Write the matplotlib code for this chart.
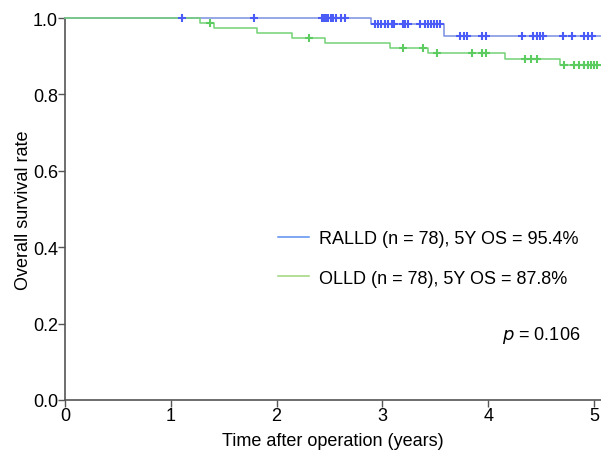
import numpy as np
import matplotlib
matplotlib.use("Agg")
import matplotlib.pyplot as plt
from matplotlib.lines import Line2D

plt.rcParams['font.family'] = ['Liberation Sans', 'DejaVu Sans']

# Kaplan-Meier steps (years, survival after step)
ralld_times = [0.0, 2.89, 3.58]
ralld_surv = [1.0, 0.985, 0.954]
ralld_censor = [1.11, 1.79, 2.43, 2.45, 2.47, 2.49, 2.51, 2.53, 2.56, 2.61, 2.65,
                2.93, 2.96, 2.99, 3.02, 3.05, 3.09, 3.11, 3.19, 3.21, 3.24, 3.36,
                3.40, 3.43, 3.46, 3.49, 3.52, 3.54,
                3.73, 3.77, 3.80, 3.94, 3.98, 4.32, 4.42, 4.46, 4.49, 4.52,
                4.71, 4.79, 4.91, 4.94, 4.98]

olld_times = [0.0, 1.28, 1.41, 1.81, 2.15, 2.46, 3.07, 3.43, 4.16, 4.68]
olld_surv = [1.0, 0.987, 0.974, 0.961, 0.948, 0.934, 0.921, 0.908, 0.893, 0.878]
olld_censor = [1.37, 2.31, 3.19, 3.38, 3.52, 3.85, 3.94, 3.98, 4.35, 4.40, 4.46,
               4.72, 4.81, 4.86, 4.91, 4.94, 4.97, 5.00, 5.03]

labels = ['RALLD (n = 78), 5Y OS = 95.4%', 'OLLD (n = 78), 5Y OS = 87.8%']
p_text = '0.106'
x_end = 5.1


def km_draw(ax, times, surv, censor, line_col, mark_col):
    t = np.append(times, x_end)
    s = np.append(surv, surv[-1])
    ax.step(t, s, where='post', color=line_col, lw=1.1, clip_on=False, zorder=3)
    idx = np.searchsorted(times, censor, side='right') - 1
    ys = np.array(surv)[idx]
    ax.plot(censor, ys, ls='none', marker='+', ms=6, mew=1.5,
            color=mark_col, clip_on=False, zorder=4)


fig = plt.figure(figsize=(6.01, 4.56), dpi=100)
ax = fig.add_axes([65 / 601, 55 / 456, 536 / 601, 382 / 456])

km_draw(ax, ralld_times, ralld_surv, ralld_censor, '#7b8ee0', '#4a5cf5')
km_draw(ax, olld_times, olld_surv, olld_censor, '#72d275', '#5ccc60')

ax.set_xlim(0, 5.066)
ax.set_ylim(0, 1.0)
ax.set_xticks([0, 1, 2, 3, 4, 5])
ax.set_yticks([0.0, 0.2, 0.4, 0.6, 0.8, 1.0])
ax.set_yticklabels(['0.0', '0.2', '0.4', '0.6', '0.8', '1.0'])
for sp in ['top', 'right']:
    ax.spines[sp].set_visible(False)
for sp in ['left', 'bottom']:
    ax.spines[sp].set_color('#555555')
    ax.spines[sp].set_linewidth(1.2)
ax.tick_params(direction='out', length=5, width=1.0, color='#555555',
               labelsize=13, pad=0)
ax.set_xlabel('Time after operation (years)', fontsize=13, labelpad=6)
ax.set_ylabel('Overall survival rate', fontsize=13, labelpad=1)

handles = [Line2D([], [], color='#5b8ff0', lw=1.1),
           Line2D([], [], color='#9fd67a', lw=1.1)]
ax.legend(handles, labels, loc='upper left', frameon=False, fontsize=13,
          bbox_to_anchor=(278 / 601, (456 - 231) / 456),
          bbox_transform=fig.transFigure, borderpad=0, borderaxespad=0,
          handlelength=1.7, handletextpad=0.55, labelspacing=1.25)

fig.text(580 / 601, (456 - 336) / 456, r'$p$ = ' + p_text, fontsize=13,
         ha='right', va='center')

fig.savefig('out.png', dpi=100)
